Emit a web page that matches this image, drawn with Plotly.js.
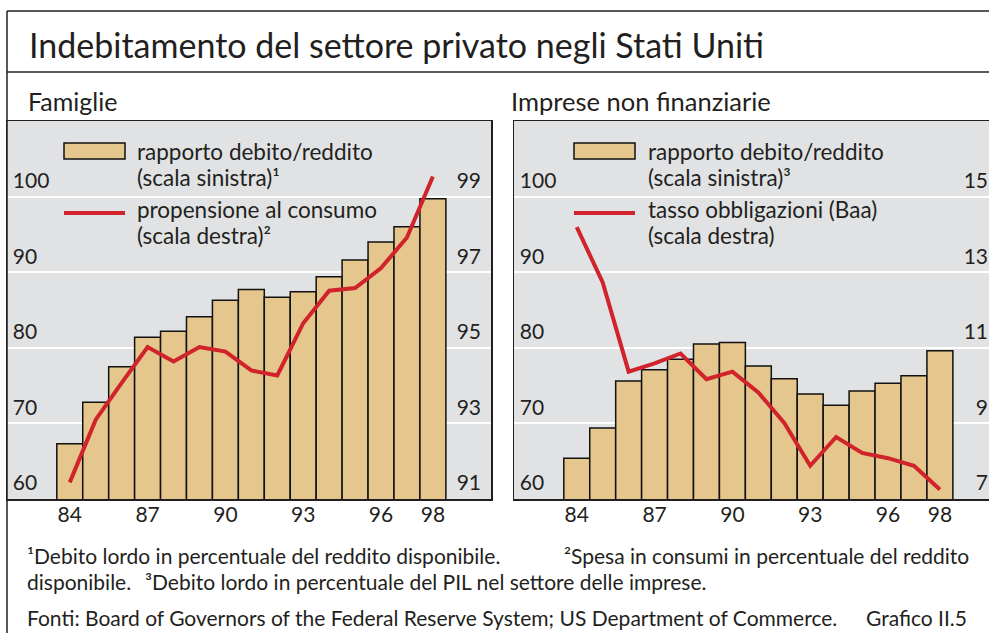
<!DOCTYPE html>
<html>
<head>
<meta charset="utf-8">
<script src="https://cdn.plot.ly/plotly-3.0.1.min.js"></script>
<style>
html,body{margin:0;padding:0;background:#fff;overflow:hidden;}
#chart{width:1010px;height:633px;}
</style>
</head>
<body>
<div id="chart"></div>
<script>
// ---- data ----
const years = [1984,1985,1986,1987,1988,1989,1990,1991,1992,1993,1994,1995,1996,1997,1998];
const famDebtRatio = [67.3,72.8,77.5,81.4,82.2,84.1,86.3,87.7,86.7,87.4,89.4,91.6,94.0,96.0,99.7];
const famConsumption = [91.44,93.10,94.07,95.02,94.64,95.02,94.90,94.40,94.27,95.65,96.51,96.58,97.11,97.92,99.53];
const firmDebtRatio = [65.4,69.4,75.6,77.1,78.5,80.5,80.7,77.6,75.9,73.9,72.4,74.3,75.3,76.3,79.6];
const baaRate = [14.19,12.73,10.37,10.59,10.85,10.17,10.37,9.82,9.01,7.88,8.64,8.22,8.08,7.88,7.25];
const xTickVals = [1984,1987,1990,1993,1996,1998];
const xTickText = ["84","87","90","93","96","98"];
const leftTickVals = [60,70,80,90,100];
const famRightTicks = [91,93,95,97,99];
const firmRightTicks = [7,9,11,13,15];

// ---- layout helpers ----
const W = 1010, H = 633;
const px = x => x / W;
const py = y => 1 - y / H;
const FONT = "Lato, 'DejaVu Sans', sans-serif";
const INK = "#231f20";
const BAR = "#e5c68c";
const RED = "#d0232c";
const BG = "#e1e2e4";

const xRange = [1981.58, 2000.24];
const yDom = [py(499), py(121)];

const tickFont = {family: FONT, size: 21, color: INK};

function yAxisLeft(anchor){
  return {domain: yDom, anchor: anchor, range:[60,110], tickvals: leftTickVals,
    ticklabelposition:'inside', ticklabelshift: -16, ticklabelstandoff: 7, ticks:'',
    showgrid:true, gridcolor:'#ffffff', gridwidth:2, zeroline:false,
    showline:true, mirror:true, linecolor:INK, linewidth:1.5, tickfont: tickFont, fixedrange:true};
}
function yAxisRight(overlay, anchor, range, tv){
  return {overlaying: overlay, anchor: anchor, side:'right', range: range, tickvals: tv,
    ticklabelposition:'inside', ticklabelshift: -16, ticklabelstandoff: 7, ticks:'',
    showgrid:false, zeroline:false, showline:false, tickfont: tickFont, fixedrange:true};
}
function xAxis(domain, anchor){
  return {domain: domain, anchor: anchor, range: xRange, tickvals: xTickVals, ticktext: xTickText,
    ticks:'', ticklabelstandoff: -4, showgrid:false, zeroline:false, showline:true, mirror:true,
    linecolor:INK, linewidth:1.5, tickfont: tickFont, fixedrange:true};
}

const traces = [
  {type:'bar', x: years, y: famDebtRatio, xaxis:'x', yaxis:'y',
   marker:{color:BAR, line:{color:'#111', width:1.5}}, hoverinfo:'skip'},
  {type:'scatter', mode:'lines', x: years, y: famConsumption, xaxis:'x', yaxis:'y2',
   line:{color:RED, width:4}, hoverinfo:'skip'},
  {type:'bar', x: years, y: firmDebtRatio, xaxis:'x2', yaxis:'y3',
   marker:{color:BAR, line:{color:'#111', width:1.5}}, hoverinfo:'skip'},
  {type:'scatter', mode:'lines', x: years, y: baaRate, xaxis:'x2', yaxis:'y4',
   line:{color:RED, width:4}, hoverinfo:'skip'}
];

function txt(x, y, text, size, anchor){
  return {xref:'paper', yref:'paper', x: px(x), y: py(y), text: text, showarrow:false,
    xanchor: anchor || 'left', yanchor:'middle', font:{family:FONT, size:size, color:INK}};
}

const FN = 21;
const LG = 22.5;
const annotations = [
  txt(27, 45, "Indebitamento del settore privato negli Stati Uniti", 34),
  txt(26, 101, "Famiglie", 25),
  txt(509, 101, "Imprese non finanziarie", 25.5),
  // left legend
  txt(135, 151, "rapporto debito/reddito", LG),
  txt(135, 178, "(scala sinistra)¹", LG),
  txt(135, 209, "propensione al consumo", LG),
  txt(135, 235, "(scala destra)²", LG),
  // right legend
  txt(646, 151, "rapporto debito/reddito", LG),
  txt(646, 178, "(scala sinistra)³", LG),
  txt(646, 209, "tasso obbligazioni (Baa)", LG),
  txt(646, 235, "(scala destra)", LG),
  // footnotes
  txt(25, 555, "¹Debito lordo in percentuale del reddito disponibile.", FN),
  txt(971, 555, "²Spesa in consumi in percentuale del reddito", FN, 'right'),
  txt(25, 581, "disponibile.", FN),
  txt(143, 581, "³Debito lordo in percentuale del PIL nel settore delle imprese.", FN),
  txt(25, 617, "Fonti: Board of Governors of the Federal Reserve System; US Department of Commerce.", FN),
  txt(969, 617, "Grafico II.5", FN, 'right')
];

const shapes = [
  // outer frame
  {type:'line', xref:'paper', yref:'paper', x0:px(7), x1:1, y0:py(11), y1:py(11), line:{color:INK, width:1.5}},
  {type:'line', xref:'paper', yref:'paper', x0:px(7), x1:px(7), y0:py(11), y1:0, line:{color:INK, width:1.5}},
  {type:'line', xref:'paper', yref:'paper', x0:px(7), x1:1, y0:py(72), y1:py(72), line:{color:INK, width:1.5}},
  // legend swatches left
  {type:'rect', xref:'paper', yref:'paper', x0:px(64), x1:px(125), y0:py(159), y1:py(143), fillcolor:BAR, line:{color:'#111', width:1.5}},
  {type:'line', xref:'paper', yref:'paper', x0:px(64), x1:px(125), y0:py(213), y1:py(213), line:{color:RED, width:4}},
  // legend swatches right
  {type:'rect', xref:'paper', yref:'paper', x0:px(574), x1:px(635), y0:py(159), y1:py(143), fillcolor:BAR, line:{color:'#111', width:1.5}},
  {type:'line', xref:'paper', yref:'paper', x0:px(574), x1:px(635), y0:py(213), y1:py(213), line:{color:RED, width:4}}
];

const layout = {
  width: W, height: H, margin:{l:0, r:0, t:0, b:0},
  paper_bgcolor:'#ffffff', plot_bgcolor: BG, showlegend:false,
  bargap:0, font:{family:FONT, color:INK},
  xaxis: xAxis([px(7), px(491)], 'y'),
  yaxis: yAxisLeft('x'),
  yaxis2: yAxisRight('y', 'x', [91,101], famRightTicks),
  xaxis2: xAxis([px(514), px(998)], 'y3'),
  yaxis3: yAxisLeft('x2'),
  yaxis4: yAxisRight('y3', 'x2', [7,17], firmRightTicks),
  annotations: annotations,
  shapes: shapes
};

Plotly.newPlot('chart', traces, layout, {displayModeBar:false, staticPlot:true});
</script>
</body>
</html>
